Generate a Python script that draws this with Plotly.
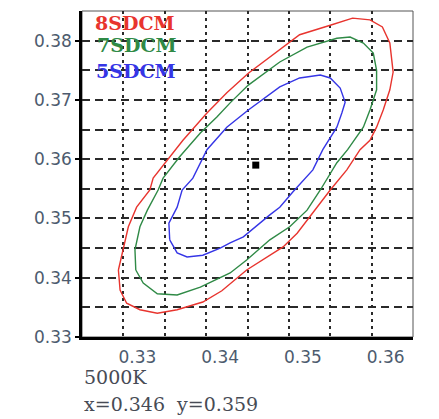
import plotly.graph_objects as go

# 8 / 7 / 5 SDCM ellipses around the 5000K point
sdcm8_x = [0.3294, 0.3300, 0.3306, 0.3316, 0.3332, 0.3336, 0.3353, 0.3372, 0.3401, 0.3425,
           0.3451, 0.3489, 0.3513, 0.3550, 0.3577, 0.3598, 0.3613, 0.3622, 0.3626, 0.3622,
           0.3614, 0.3606, 0.3598, 0.3586, 0.3570, 0.3550, 0.3529, 0.3510, 0.3493, 0.3474,
           0.3449, 0.3419, 0.3396, 0.3365, 0.3341, 0.3320, 0.3304, 0.3296, 0.3294]
sdcm8_y = [0.3413, 0.3452, 0.3486, 0.3519, 0.3548, 0.3568, 0.3599, 0.3632, 0.3678, 0.3712,
           0.3745, 0.3784, 0.3810, 0.3826, 0.3838, 0.3835, 0.3823, 0.3796, 0.3747, 0.3717,
           0.3683, 0.3654, 0.3632, 0.3616, 0.3582, 0.3548, 0.3509, 0.3475, 0.3452, 0.3435,
           0.3413, 0.3378, 0.3359, 0.3346, 0.3340, 0.3346, 0.3357, 0.3379, 0.3413]

sdcm7_x = [0.3315, 0.3314, 0.3320, 0.3329, 0.3342, 0.3348, 0.3368, 0.3393, 0.3413, 0.3429,
           0.3451, 0.3489, 0.3522, 0.3558, 0.3574, 0.3590, 0.3602, 0.3606, 0.3606, 0.3598,
           0.3590, 0.3571, 0.3558, 0.3538, 0.3522, 0.3501, 0.3477, 0.3449, 0.3429, 0.3393,
           0.3365, 0.3341, 0.3324, 0.3315]
sdcm7_y = [0.3413, 0.3447, 0.3486, 0.3514, 0.3548, 0.3568, 0.3604, 0.3644, 0.3671, 0.3695,
           0.3725, 0.3764, 0.3789, 0.3804, 0.3806, 0.3796, 0.3779, 0.3750, 0.3717, 0.3683,
           0.3654, 0.3616, 0.3594, 0.3548, 0.3514, 0.3486, 0.3464, 0.3430, 0.3408, 0.3384,
           0.3371, 0.3373, 0.3391, 0.3413]

sdcm5_x = [0.3356, 0.3355, 0.3365, 0.3371, 0.3384, 0.3401, 0.3425, 0.3451, 0.3489, 0.3513,
           0.3538, 0.3550, 0.3562, 0.3568, 0.3564, 0.3558, 0.3541, 0.3529, 0.3505, 0.3489,
           0.3477, 0.3445, 0.3429, 0.3417, 0.3396, 0.3377, 0.3365, 0.3356]
sdcm5_y = [0.3464, 0.3492, 0.3519, 0.3548, 0.3568, 0.3616, 0.3654, 0.3683, 0.3722, 0.3737,
           0.3742, 0.3737, 0.3720, 0.3696, 0.3678, 0.3654, 0.3616, 0.3582, 0.3545, 0.3519,
           0.3506, 0.3469, 0.3459, 0.3450, 0.3438, 0.3435, 0.3442, 0.3464]

center_x = 0.346
center_y = 0.359
cct_label = "5000K"

series = [
    ("8SDCM", sdcm8_x, sdcm8_y, "#e8342e"),
    ("7SDCM", sdcm7_x, sdcm7_y, "#2f8a46"),
    ("5SDCM", sdcm5_x, sdcm5_y, "#3535e6"),
]

fig = go.Figure()
for name, xs, ys, color in series:
    fig.add_trace(go.Scatter(x=xs, y=ys, mode="lines", name=name,
                             line=dict(color=color, width=1.4), showlegend=False))

fig.add_trace(go.Scatter(x=[center_x], y=[center_y], mode="markers",
                         marker=dict(symbol="square", size=7, color="black"),
                         showlegend=False))

# legend-like labels inside the box
label_pos = [(0.033, 0.963), (0.039, 0.897), (0.036, 0.817)]
for (name, _, _, color), (lx, ly) in zip(series, label_pos):
    fig.add_annotation(x=lx, y=ly, xref="paper", yref="paper", text=f"<b>{name}</b>",
                       showarrow=False, xanchor="left", yanchor="middle",
                       font=dict(family="DejaVu Serif", size=19, color=color))

fig.add_annotation(x=0, y=-0.1227, xref="paper", yref="paper", text=cct_label,
                   showarrow=False, xanchor="left", yanchor="middle",
                   font=dict(family="DejaVu Serif", size=19, color="#474b55"))
fig.add_annotation(x=0, y=-0.2055, xref="paper", yref="paper",
                   text=f"x={center_x:.3f}  y={center_y:.3f}",
                   showarrow=False, xanchor="left", yanchor="middle",
                   font=dict(family="DejaVu Serif", size=19, color="#474b55"))

# thin frame for top / right
fig.add_shape(type="rect", xref="paper", yref="paper", x0=0, y0=0, x1=1, y1=1,
              line=dict(color="#555555", width=1), layer="below")

grid_x = dict(gridcolor="#2a2a2a", gridwidth=2, griddash="3px,4px")
grid_y = dict(gridcolor="#2a2a2a", gridwidth=1.5, griddash="8px,5px")
tick_font = dict(family="DejaVu Sans", size=17, color="#4d5b6e")

fig.update_xaxes(range=[0.325, 0.365], tick0=0.33, dtick=0.01, tickformat=".2f",
                 showgrid=True, **grid_x,
                 minor=dict(dtick=0.005, showgrid=True, **grid_x),
                 showline=True, linecolor="black", linewidth=2.5,
                 ticks="", ticklabelshift=14, ticklabelstandoff=3,
                 tickfont=tick_font, zeroline=False)
fig.update_yaxes(range=[0.33, 0.385], tick0=0.33, dtick=0.01, tickformat=".2f",
                 showgrid=True, **grid_y,
                 minor=dict(dtick=0.005, showgrid=True, **grid_y),
                 showline=True, linecolor="black", linewidth=2.5,
                 ticks="outside", ticklen=4, tickwidth=1.5, tickcolor="black",
                 tickfont=tick_font, zeroline=False)

# the page body adds an 8px margin, so the figure is 8px smaller
fig.update_layout(width=431, height=411,
                  margin=dict(l=74, r=26, t=3, b=82),
                  plot_bgcolor="white", paper_bgcolor="white")

fig.write_html("out.html")
